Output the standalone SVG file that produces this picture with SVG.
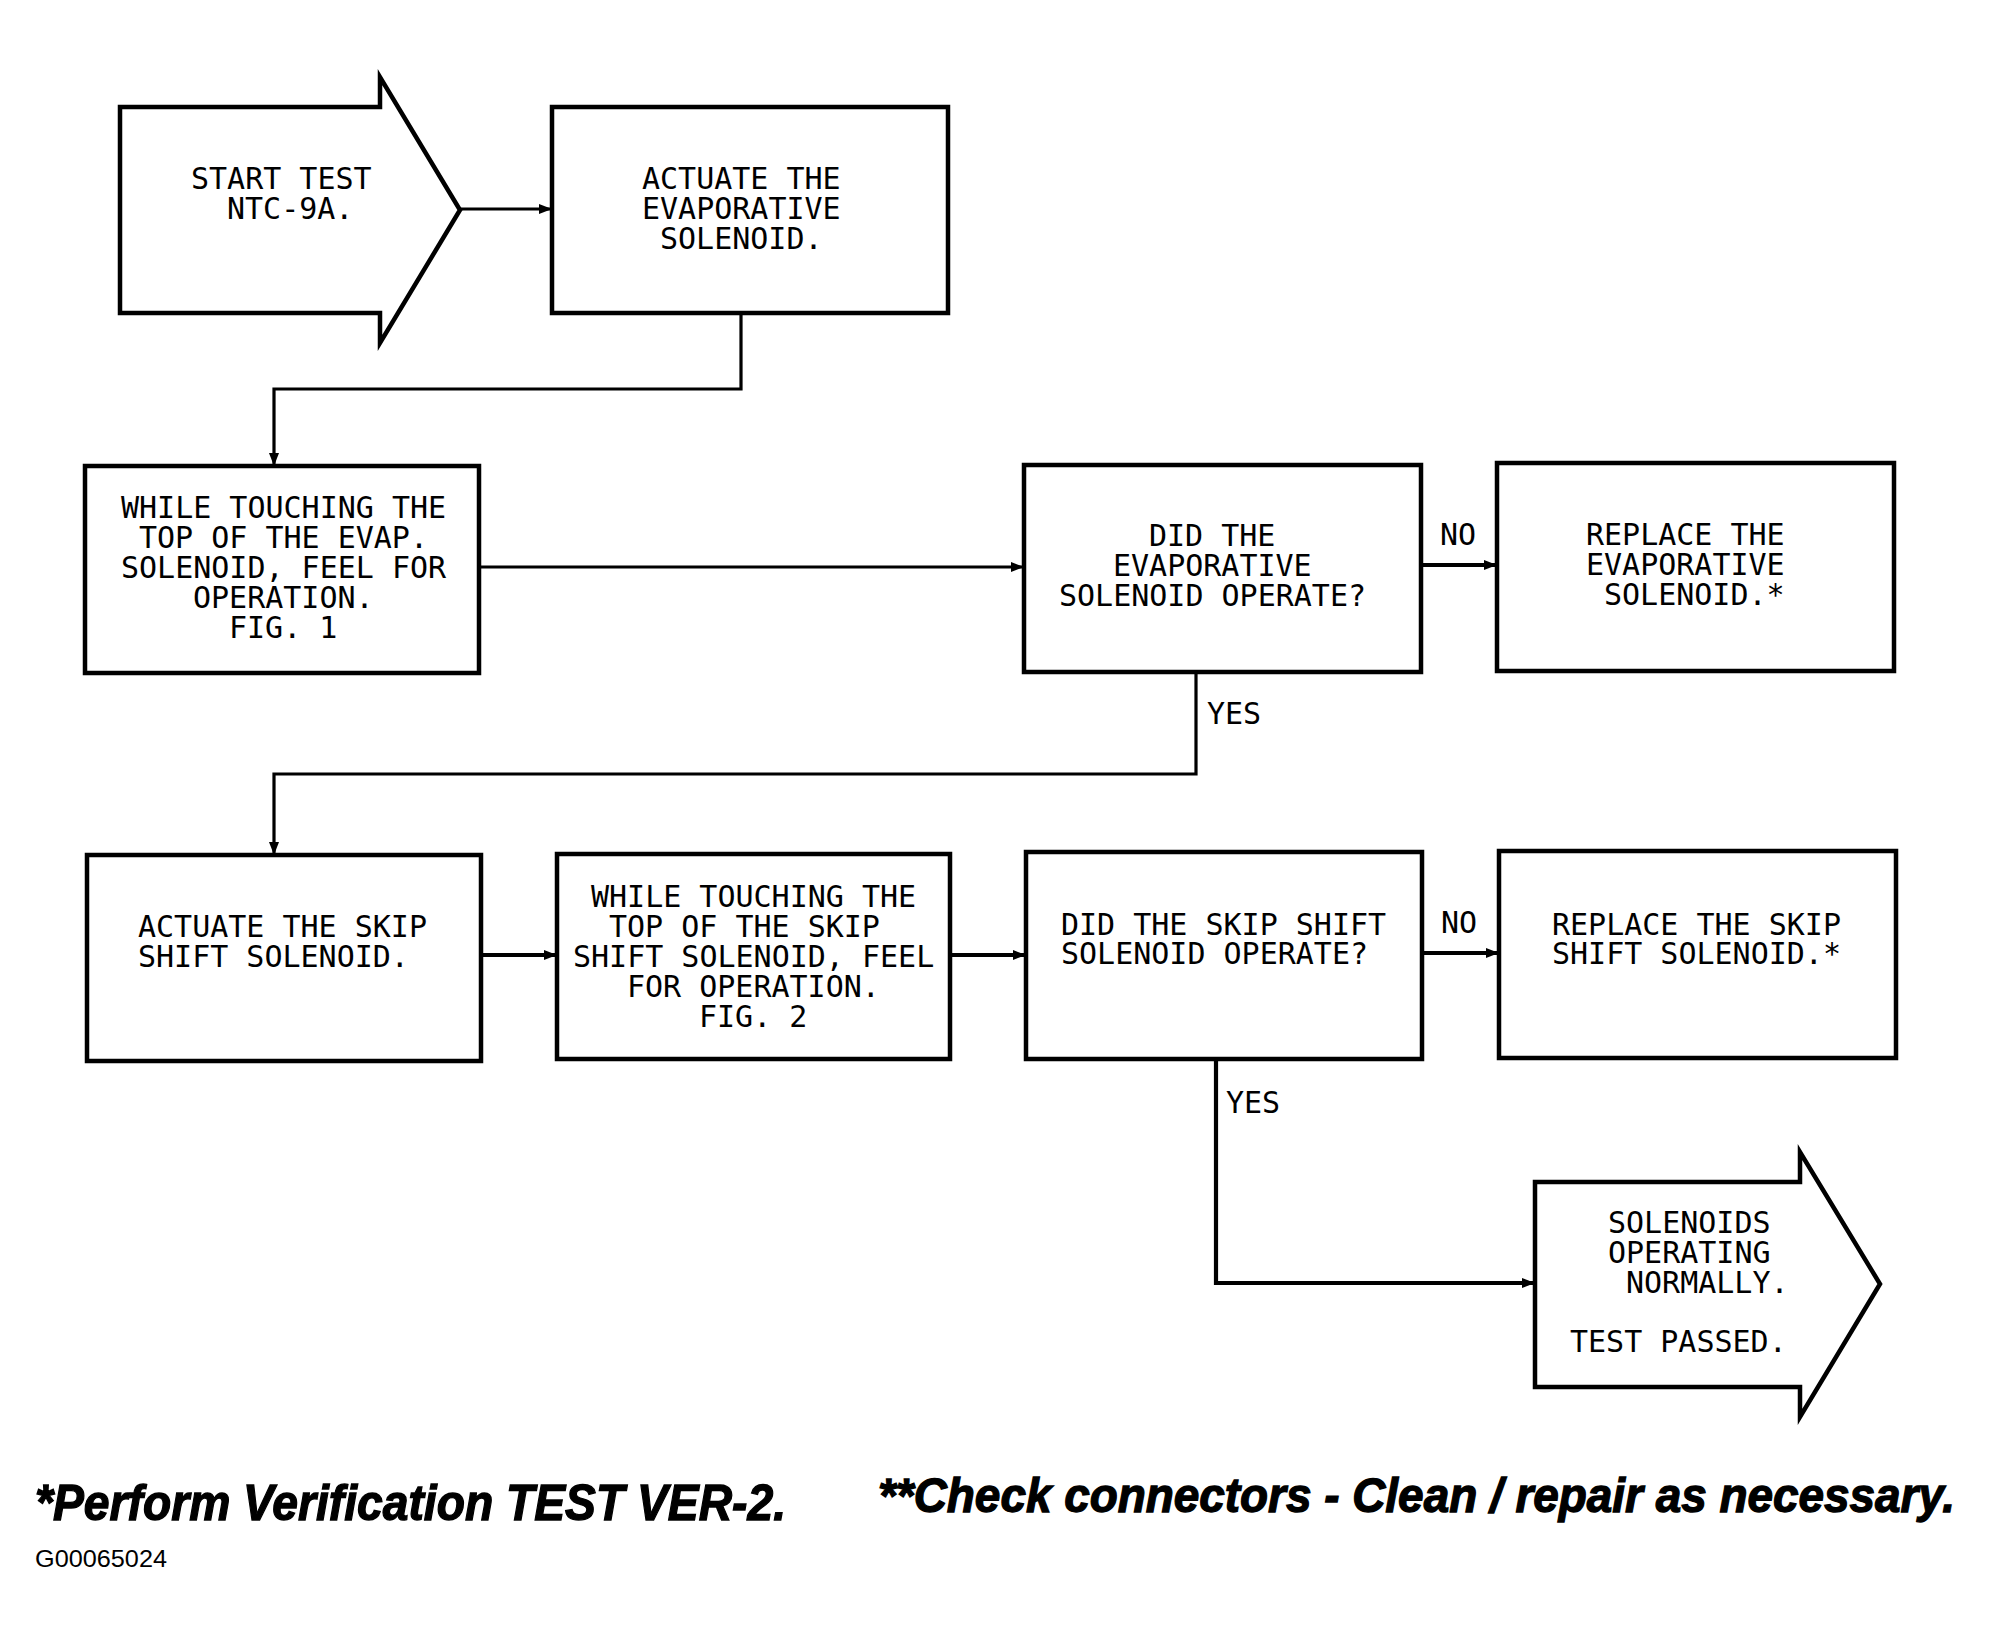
<svg xmlns="http://www.w3.org/2000/svg" width="2004" height="1637" viewBox="0 0 2004 1637">
<style>
.box{fill:#fff;stroke:#000;stroke-width:4.5;stroke-linejoin:miter}
.t{font-family:"DejaVu Sans Mono","Liberation Mono",monospace;font-size:30px;fill:#000;white-space:pre}
.c{fill:none;stroke:#000;stroke-width:3.2;marker-end:url(#ah)}
.ck{stroke-width:4.2}
.foot{font-family:"Liberation Sans",Arial,sans-serif;font-weight:bold;font-style:italic;fill:#000;stroke:#000;stroke-width:1.3}
</style>
<defs>
<marker id="ah" markerUnits="userSpaceOnUse" markerWidth="14" markerHeight="12" refX="13" refY="6" orient="auto">
<path d="M0,1 L13,6 L0,11 z" fill="#000"/>
</marker>
</defs>
<rect width="2004" height="1637" fill="#fff"/>

<g id="connectors">
<path class="c" d="M460,209 H552"/>
<path class="c" d="M741,313 V389 H274 V466"/>
<path class="c" d="M479,567 H1024"/>
<path class="c ck" d="M1421,565 H1497"/>
<path class="c" d="M1196,671 V774 H274 V855"/>
<path class="c ck" d="M481,955 H557"/>
<path class="c ck" d="M950,955 H1026"/>
<path class="c ck" d="M1422,953 H1499"/>
<path class="c ck" d="M1216,1059 V1283 H1535"/>
<text class="t" x="1440" y="545">NO</text>
<text class="t" x="1207" y="724">YES</text>
<text class="t" x="1441" y="933">NO</text>
<text class="t" x="1226" y="1113">YES</text>
</g>

<g id="start">
<polygon class="box" points="120,107 380,107 380,77 460,210 380,343 380,313 120,313"/>
<text class="t" x="191" y="189">START TEST</text>
<text class="t" x="227" y="219">NTC-9A.</text>
</g>

<g id="actuate-evap">
<rect class="box" x="552" y="107" width="396" height="206"/>
<text class="t" x="642" y="189">ACTUATE THE</text>
<text class="t" x="642" y="219">EVAPORATIVE</text>
<text class="t" x="660" y="249">SOLENOID.</text>
</g>

<g id="touch-evap">
<rect class="box" x="85" y="466" width="394" height="207"/>
<text class="t" x="121" y="518">WHILE TOUCHING THE</text>
<text class="t" x="139" y="548">TOP OF THE EVAP.</text>
<text class="t" x="121" y="578">SOLENOID, FEEL FOR</text>
<text class="t" x="193" y="608">OPERATION.</text>
<text class="t" x="229" y="638">FIG. 1</text>
</g>

<g id="did-evap">
<rect class="box" x="1024" y="465" width="397" height="207"/>
<text class="t" x="1149" y="546">DID THE</text>
<text class="t" x="1113" y="576">EVAPORATIVE</text>
<text class="t" x="1059" y="606">SOLENOID OPERATE?</text>
</g>

<g id="replace-evap">
<rect class="box" x="1497" y="463" width="397" height="208"/>
<text class="t" x="1586" y="545">REPLACE THE</text>
<text class="t" x="1586" y="575">EVAPORATIVE</text>
<text class="t" x="1604" y="605">SOLENOID.*</text>
</g>

<g id="actuate-skip">
<rect class="box" x="87" y="855" width="394" height="206"/>
<text class="t" x="138" y="937">ACTUATE THE SKIP</text>
<text class="t" x="138" y="967">SHIFT SOLENOID.</text>
</g>

<g id="touch-skip">
<rect class="box" x="557" y="854" width="393" height="205"/>
<text class="t" x="591" y="907">WHILE TOUCHING THE</text>
<text class="t" x="609" y="937">TOP OF THE SKIP</text>
<text class="t" x="573" y="967">SHIFT SOLENOID, FEEL</text>
<text class="t" x="627" y="997">FOR OPERATION.</text>
<text class="t" x="699" y="1027">FIG. 2</text>
</g>

<g id="did-skip">
<rect class="box" x="1026" y="852" width="396" height="207"/>
<text class="t" x="1061" y="935">DID THE SKIP SHIFT</text>
<text class="t" x="1061" y="964">SOLENOID OPERATE?</text>
</g>

<g id="replace-skip">
<rect class="box" x="1499" y="851" width="397" height="207"/>
<text class="t" x="1552" y="935">REPLACE THE SKIP</text>
<text class="t" x="1552" y="964">SHIFT SOLENOID.*</text>
</g>

<g id="end">
<polygon class="box" points="1535,1182 1800,1182 1800,1152 1880,1284 1800,1417 1800,1387 1535,1387"/>
<text class="t" x="1608" y="1233">SOLENOIDS</text>
<text class="t" x="1608" y="1263">OPERATING</text>
<text class="t" x="1626" y="1293">NORMALLY.</text>
<text class="t" x="1570" y="1352">TEST PASSED.</text>
</g>

<g id="footer">
<text class="foot" x="35" y="1520" font-size="50" textLength="751" lengthAdjust="spacingAndGlyphs">*Perform Verification TEST VER-2.</text>
<text class="foot" x="878" y="1512" font-size="48" textLength="1077" lengthAdjust="spacingAndGlyphs">**Check connectors - Clean / repair as necessary.</text>
<text x="35" y="1567" font-family="'Liberation Sans',Arial,sans-serif" font-size="24" textLength="132" lengthAdjust="spacingAndGlyphs" fill="#000">G00065024</text>
</g>
</svg>
